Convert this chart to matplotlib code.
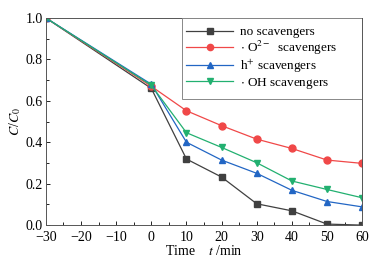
import matplotlib
matplotlib.use("Agg")
import matplotlib.pyplot as plt
from matplotlib.ticker import MultipleLocator
from matplotlib.patches import Rectangle

plt.rcParams['font.family'] = ['Liberation Serif', 'DejaVu Serif']
plt.rcParams['mathtext.fontset'] = 'stix'

time = [-30, 0, 10, 20, 30, 40, 50, 60]
no_scav = [1.0, 0.66, 0.319, 0.232, 0.103, 0.069, 0.005, 0.0]
o2_scav = [1.0, 0.67, 0.552, 0.48, 0.415, 0.37, 0.314, 0.298]
h_scav = [1.0, 0.68, 0.40, 0.314, 0.25, 0.168, 0.114, 0.088]
oh_scav = [1.0, 0.675, 0.446, 0.375, 0.301, 0.213, 0.172, 0.132]
labels = ['no scavengers', r'$\cdot$ O$^{2-}$  scavengers', r'h$^{+}$ scavengers', r'$\cdot$ OH scavengers']

fig = plt.figure(figsize=(3.73, 2.68), dpi=100)
ax = fig.add_axes([0.123, 0.160, 0.848, 0.773])
ax.plot(time, no_scav, color='#404040', marker='s', ms=4.5, lw=0.9, label=labels[0])
ax.plot(time, o2_scav, color='#f04848', marker='o', ms=5, lw=0.9, label=labels[1])
ax.plot(time, h_scav, color='#2266c4', marker='^', ms=5, lw=0.9, label=labels[2])
ax.plot(time, oh_scav, color='#22b070', marker='v', ms=5, lw=0.9, label=labels[3])

ax.set_xlim(-30, 60)
ax.set_ylim(0, 1.0)
ax.xaxis.set_major_locator(MultipleLocator(10))
ax.xaxis.set_minor_locator(MultipleLocator(5))
ax.yaxis.set_major_locator(MultipleLocator(0.2))
ax.yaxis.set_minor_locator(MultipleLocator(0.1))
ax.yaxis.set_major_formatter(matplotlib.ticker.FormatStrFormatter('%.1f'))
ax.tick_params(which='both', direction='in', labelsize=10, top=False, right=False)
ax.tick_params(axis='x', pad=4)
ax.tick_params(axis='y', pad=2)
ax.tick_params(which='major', length=3, width=0.6)
ax.tick_params(which='minor', length=2, width=0.6)
for s in ax.spines.values():
    s.set_linewidth(0.7)
    s.set_color('#555555')
ax.set_xlabel(r'Time    $t$ /min', fontsize=10, labelpad=0)
ax.set_ylabel(r'$C$/$C_0$', fontsize=10, labelpad=2)

# legend frame
ax.add_patch(Rectangle((0.43, 0.61), 0.57, 0.39, transform=ax.transAxes,
                       fill=False, edgecolor='#888888', lw=0.7, zorder=5))
leg = ax.legend(loc='upper left', bbox_to_anchor=(0.43, 0.98), fontsize=9.5, frameon=False,
                borderaxespad=0, borderpad=0.3, handlelength=3.6, labelspacing=0.05,
                handletextpad=0.5, markerscale=0.9)

fig.savefig('out.png', dpi=100)
